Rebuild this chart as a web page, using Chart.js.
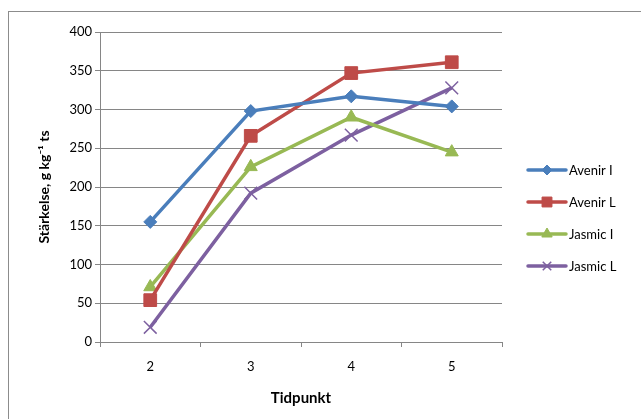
<!DOCTYPE html>
<html>
<head>
<meta charset="utf-8">
<script src="https://cdn.jsdelivr.net/npm/chart.js@4/dist/chart.umd.min.js"></script>
<style>
  html, body { margin: 0; padding: 0; background: #fff; }
  #wrap { width: 641px; height: 419px; position: relative; }
</style>
</head>
<body>
<div id="wrap"><canvas id="c" width="641" height="419"></canvas></div>
<script>
// Sampling occasions (Tidpunkt)
const categories = ['2', '3', '4', '5'];

// Starch content, g kg-1 dry matter
const avenirI = [155, 298, 317, 304];
const avenirL = [54, 266, 347, 361];
const jasmicI = [71, 226, 290, 245];
const jasmicL = [19, 192, 267, 328];

const seriesNames = ['Avenir I', 'Avenir L', 'Jasmic I', 'Jasmic L'];
const yTicks = [0, 50, 100, 150, 200, 250, 300, 350, 400];

const colors = ['#4A7EBB', '#BE4B48', '#98B954', '#7D60A0'];
const styles = ['rectRot', 'rect', 'triangle', 'crossRot'];
const radii = [6.5, 9, 7.5, 9];
const legendRadii = [5, 7, 6, 6];
const FONT = 'Lato, "Open Sans", sans-serif';

const seriesData = [avenirI, avenirL, jasmicI, jasmicL];

const datasets = seriesData.map((d, i) => ({
  label: seriesNames[i],
  data: d,
  borderColor: colors[i],
  backgroundColor: colors[i],
  pointBackgroundColor: colors[i],
  pointBorderColor: colors[i],
  pointStyle: styles[i],
  pointRadius: radii[i],
  pointBorderWidth: styles[i] === 'crossRot' ? 1.5 : 1,
  borderWidth: 3.5,
  tension: 0,
  fill: false
}));

// Outer frame of the chart
const framePlugin = {
  id: 'frame',
  beforeDraw(chart) {
    const ctx = chart.ctx;
    ctx.save();
    ctx.fillStyle = '#fff';
    ctx.fillRect(0, 0, chart.width, chart.height);
    ctx.strokeStyle = '#8c8c8c';
    ctx.lineWidth = 1;
    ctx.strokeRect(8.5, 11.5, 700, 500);
    ctx.restore();
  }
};

// Legend: short line with the series marker, label to the right
const sideLegend = {
  id: 'sideLegend',
  afterDraw(chart) {
    const ctx = chart.ctx;
    const x0 = 528, x1 = 566, tx = 569;
    const ys = [170, 202, 234, 266];
    chart.data.datasets.forEach((ds, i) => {
      const y = ys[i];
      ctx.save();
      ctx.strokeStyle = ds.borderColor;
      ctx.lineWidth = 3.5;
      ctx.lineCap = 'round';
      ctx.beginPath();
      ctx.moveTo(x0, y);
      ctx.lineTo(x1, y);
      ctx.stroke();
      ctx.restore();
      ctx.save();
      ctx.fillStyle = ds.pointBackgroundColor;
      ctx.strokeStyle = ds.pointBorderColor;
      ctx.lineWidth = ds.pointBorderWidth;
      Chart.helpers.drawPoint(ctx, {
        pointStyle: ds.pointStyle,
        radius: legendRadii[i],
        rotation: 0,
        borderWidth: ds.pointBorderWidth
      }, (x0 + x1) / 2, y);
      ctx.restore();
      ctx.save();
      ctx.fillStyle = '#000';
      ctx.font = '13px ' + FONT;
      ctx.textBaseline = 'middle';
      ctx.textAlign = 'left';
      ctx.fillText(ds.label, tx, y + 1);
      ctx.restore();
    });
  }
};

new Chart(document.getElementById('c'), {
  type: 'line',
  data: { labels: categories, datasets },
  options: {
    responsive: false,
    animation: false,
    devicePixelRatio: 1,
    layout: { padding: { left: 30, right: 139, top: 32, bottom: 12 } },
    plugins: {
      legend: { display: false },
      tooltip: { enabled: false }
    },
    scales: {
      x: {
        type: 'category',
        offset: true,
        afterFit(axis) { axis.height = 65; },
        grid: {
          offset: true,
          drawOnChartArea: false,
          drawTicks: true,
          tickLength: 5,
          color: '#868686'
        },
        border: { color: '#868686', width: 1 },
        ticks: {
          color: '#000',
          font: { family: FONT, size: 13 },
          padding: 12,
          maxRotation: 0
        },
        title: {
          display: true,
          text: 'Tidpunkt',
          color: '#000',
          font: { family: FONT, size: 15, weight: 'bold' },
          padding: { top: 4, bottom: 0 }
        }
      },
      y: {
        min: 0,
        max: 400,
        afterBuildTicks(axis) {
          axis.ticks = yTicks.map(v => ({ value: v }));
        },
        afterFit(axis) { axis.width = 70; },
        grid: {
          color: '#868686',
          lineWidth: 1,
          tickLength: 5,
          drawTicks: true
        },
        border: { color: '#868686', width: 1 },
        ticks: {
          color: '#000',
          font: { family: FONT, size: 13 },
          padding: 3
        },
        title: {
          display: true,
          text: 'Stärkelse, g kg⁻¹ ts',
          color: '#000',
          font: { family: FONT, size: 14, weight: 'bold' },
          padding: { top: 6, bottom: 0 }
        }
      }
    }
  },
  plugins: [framePlugin, sideLegend]
});
</script>
</body>
</html>
